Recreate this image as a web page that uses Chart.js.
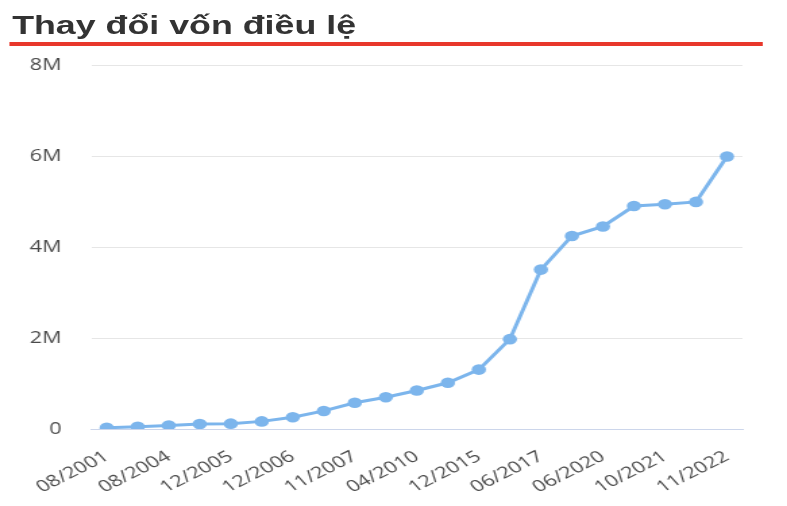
<!DOCTYPE html>
<html>
<head>
<meta charset="utf-8">
<script src="https://cdn.jsdelivr.net/npm/chart.js@4/dist/chart.umd.min.js"></script>
<style>
  html, body { margin: 0; padding: 0; background: #fff; overflow: hidden; }
  /* the reference is stretched sideways, so draw narrow and stretch the whole block */
  #wrap {
    position: relative;
    width: 583px;
    height: 506px;
    overflow: hidden;
    transform: scaleX(1.35);
    transform-origin: 0 0;
  }
  #title {
    position: absolute;
    left: 9px;
    top: 10px;
    font: bold 26.5px "Liberation Sans", Arial, sans-serif;
    color: #333;
    white-space: nowrap;
  }
  #rule {
    position: absolute;
    left: 7px;
    top: 42px;
    width: 558px;
    height: 4px;
    background: #e8372b;
  }
  #box {
    position: absolute;
    left: 0;
    top: 34px;
    width: 583px;
    height: 481px;
  }
</style>
</head>
<body>
<div id="wrap">
  <div id="title">Thay đổi vốn điều lệ</div>
  <div id="rule"></div>
  <div id="box"><canvas id="chart"></canvas></div>
</div>
<script>
// charter capital changes, in millions
const periods = [
  "08/2001", "12/2002", "08/2004", "05/2005", "12/2005", "06/2006", "12/2006",
  "04/2007", "11/2007", "06/2009", "04/2010", "10/2013", "12/2015", "12/2016",
  "06/2017", "08/2019", "06/2020", "12/2020", "10/2021", "05/2022", "11/2022"
];
const capital = [
  0.03, 0.05, 0.08, 0.11, 0.12, 0.17, 0.26,
  0.40, 0.58, 0.70, 0.85, 1.02, 1.31, 1.98,
  3.51, 4.25, 4.46, 4.91, 4.95, 5.00, 6.00
];
const yTicks = [0, 2, 4, 6, 8];

const tickFont = { family: "'Open Sans', sans-serif", size: 16 };

new Chart(document.getElementById("chart"), {
  type: "line",
  data: {
    labels: periods,
    datasets: [{
      data: capital,
      borderColor: "#7cb5ec",
      backgroundColor: "#7cb5ec",
      borderWidth: 3,
      pointRadius: 5.3,
      pointHoverRadius: 5.3,
      pointBorderWidth: 0,
      tension: 0,
    }],
  },
  options: {
    responsive: true,
    maintainAspectRatio: false,
    animation: false,
    layout: { padding: { top: 8, right: 33, bottom: 0, left: 0 } },
    plugins: { legend: { display: false }, tooltip: { enabled: false } },
    scales: {
      x: {
        offset: true,
        grid: { display: false, drawTicks: false },
        border: { color: "#ccd6eb", width: 1 },
        ticks: {
          autoSkip: false,
          minRotation: 34,
          maxRotation: 34,
          padding: 18,
          color: "#4a4a4a",
          font: tickFont,
          callback: function (val, i) {
            return i % 2 === 0 ? this.getLabelForValue(val) : "";
          },
        },
      },
      y: {
        min: 0,
        max: 8,
        afterBuildTicks: (axis) => { axis.ticks = yTicks.map((v) => ({ value: v })); },
        grid: { color: "#e6e6e6", drawTicks: false },
        border: { display: false },
        ticks: {
          padding: 22,
          color: "#4a4a4a",
          font: tickFont,
          callback: (v) => (v === 0 ? "0" : v + "M"),
        },
      },
    },
  },
});
</script>
</body>
</html>
